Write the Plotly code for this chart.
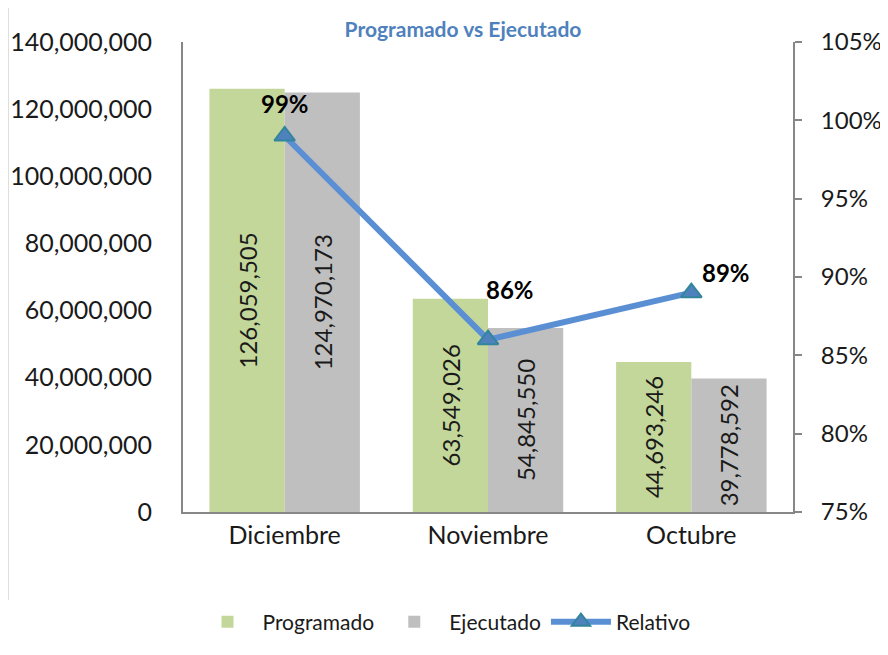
import plotly.graph_objects as go

categories = ["Diciembre", "Noviembre", "Octubre"]
programado = [126059505, 63549026, 44693246]
ejecutado = [124970173, 54845550, 39778592]
relativo = [0.99, 0.86, 0.89]
rel_labels = ["99%", "86%", "89%"]

FONT = "Lato"
W, H = 880, 647  # page body has an 8px margin
fig = go.Figure()
fig.add_trace(go.Bar(
    x=categories, y=programado, name="Programado",
    marker=dict(color="#C4D79B", line=dict(width=0)),
    text=[f"{v:,}" for v in programado], textposition="inside",
    insidetextanchor="middle", textangle=-90,
    textfont=dict(family=FONT, size=24, color="#1a1a1a"),
    constraintext="none",
))
fig.add_trace(go.Bar(
    x=categories, y=ejecutado, name="Ejecutado",
    marker=dict(color="#BFBFBF", line=dict(width=0)),
    text=[f"{v:,}" for v in ejecutado], textposition="inside",
    insidetextanchor="middle", textangle=-90,
    textfont=dict(family=FONT, size=24, color="#1a1a1a"),
    constraintext="none",
))
fig.add_trace(go.Scatter(
    x=categories, y=relativo, name="Relativo", yaxis="y2",
    mode="lines+markers",
    line=dict(color="#5B8FD4", width=6),
    marker=dict(symbol="triangle-up", size=18, color="#4F81BD",
                line=dict(color="#31859C", width=2)),
))

shifts = [(0, 33), (22, 50), (35, 20)]
for c, r, t, (dx, dy) in zip(categories, relativo, rel_labels, shifts):
    fig.add_annotation(x=c, y=r, yref="y2", text=f"<b>{t}</b>", showarrow=False,
                       xshift=dx, yshift=dy,
                       font=dict(family=FONT, size=24, color="black"))

fig.update_layout(
    width=W, height=H,
    margin=dict(l=175, r=95, t=34, b=143, autoexpand=False),
    paper_bgcolor="white", plot_bgcolor="white",
    barmode="group", bargap=0.26, bargroupgap=0,
    font=dict(family=FONT, size=25, color="#1a1a1a"),
    title=dict(text="<b>Programado vs Ejecutado</b>", x=455/W, xanchor="center",
               xref="container", y=1-22/H, yanchor="middle", yref="container",
               font=dict(family=FONT, size=21, color="#4F81BD")),
    xaxis=dict(showline=True, linecolor="#878787", linewidth=2, ticks="",
               tickfont=dict(size=25), showgrid=False, automargin=False),
    yaxis=dict(range=[0, 140000000], dtick=20000000, tickformat=",d",
               showline=True, linecolor="#878787", linewidth=2, ticks="",
               showgrid=False, zeroline=False, ticklabelstandoff=24,
               tickfont=dict(size=25), automargin=False),
    yaxis2=dict(range=[0.75, 1.05], dtick=0.05, tickformat=".0%",
                overlaying="y", side="right", showline=True,
                linecolor="#878787", linewidth=2, ticks="outside",
                ticklen=7, tickwidth=2, tickcolor="#878787",
                showgrid=False, zeroline=False, ticklabelstandoff=14,
                tickfont=dict(size=24), automargin=False),
    legend=dict(orientation="h", x=436/W, xanchor="center", xref="container",
                y=1-614/H, yref="container", yanchor="middle",
                font=dict(size=21), traceorder="normal", itemwidth=60),
    showlegend=True,
)
fig.add_shape(type="line", xref="paper", yref="paper",
              x0=(0-175)/610, x1=(0-175)/610, y0=(504-0)/470, y1=(504-592)/470,
              line=dict(color="#BDBDBD", width=1))
fig.write_html("out.html")
